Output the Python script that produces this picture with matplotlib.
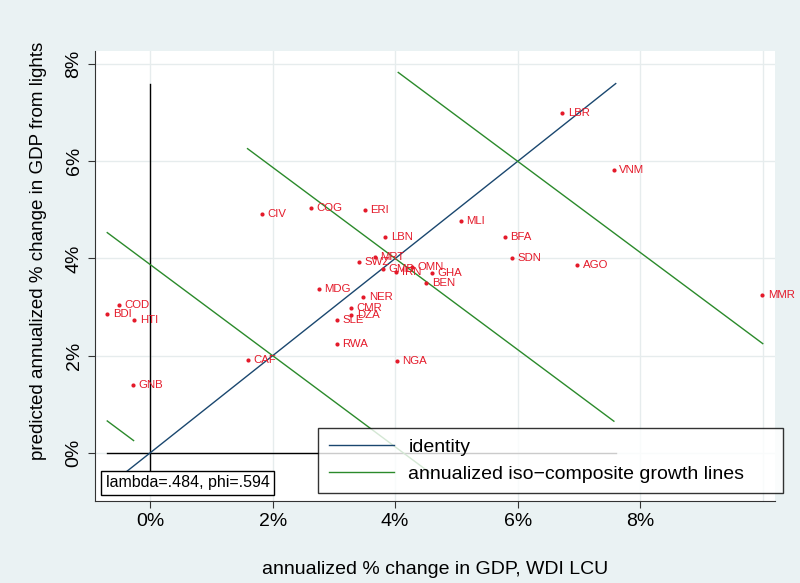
import numpy as np
import matplotlib
matplotlib.use('Agg')
import matplotlib.pyplot as plt
from matplotlib.lines import Line2D

plt.rcParams['font.family'] = ['Liberation Sans Narrow', 'Liberation Sans', 'DejaVu Sans']

# data (annualized % growth)
countries = ['LBR', 'VNM', 'CIV', 'COG', 'ERI', 'MLI', 'LBN', 'BFA', 'MRT', 'SWZ',
             'GMB', 'IRN', 'OMN', 'GHA', 'SDN', 'AGO', 'MDG', 'BEN', 'NER', 'CMR',
             'DZA', 'SLE', 'RWA', 'CAF', 'NGA', 'COD', 'BDI', 'HTI', 'GNB', 'MMR']
gdp_wdi = [6.73, 7.57, 1.82, 2.63, 3.50, 5.07, 3.84, 5.79, 3.67, 3.41,
           3.80, 4.02, 4.27, 4.60, 5.91, 6.97, 2.75, 4.51, 3.48, 3.28,
           3.28, 3.05, 3.05, 1.59, 4.03, -0.51, -0.70, -0.26, -0.28, 9.99]
gdp_lights = [6.99, 5.82, 4.92, 5.03, 4.99, 4.77, 4.45, 4.45, 4.04, 3.93,
              3.79, 3.72, 3.83, 3.71, 4.00, 3.87, 3.37, 3.50, 3.20, 2.98,
              2.83, 2.74, 2.24, 1.92, 1.89, 3.05, 2.86, 2.74, 1.40, 3.24]

lam = 0.484
phi = 0.594
slope = -lam / (1 - lam)

# iso-composite lines: point on identity and x range drawn
iso_points = [0, 2, 4, 6]
iso_x_start = [-0.70, -0.70, 1.59, 4.05]
iso_x_end = [-0.27, 4.6, 7.57, 10.0]

identity_range = [-0.7, 7.6]

bg = '#eaf2f3'
grid_c = '#e6eced'
red = '#e41a2a'
navy = '#1a476f'
green = '#2b8a2b'

fig = plt.figure(figsize=(8, 5.83), dpi=100, facecolor=bg)
ax = fig.add_axes([0.11875, 0.1407, 0.85, 0.7718])
ax.set_facecolor('white')

for g in [0, 2, 4, 6, 8]:
    ax.axhline(g, color=grid_c, lw=1, zorder=0)
for g in [0, 2, 4, 6, 8, 10]:
    ax.axvline(g, color=grid_c, lw=1, zorder=0)

# reference axes through origin
ax.plot(identity_range, [0, 0], color='black', lw=1, zorder=1)
ax.plot([0, 0], identity_range, color='black', lw=1, zorder=1)

ax.plot(identity_range, identity_range, color=navy, lw=1, zorder=2)
for c, x0, x1 in zip(iso_points, iso_x_start, iso_x_end):
    xs = np.array([x0, x1])
    ax.plot(xs, c + slope * (xs - c), color=green, lw=1, zorder=2)

ax.scatter(gdp_wdi, gdp_lights, s=9, color=red, zorder=3, linewidths=0)
for name, x, y in zip(countries, gdp_wdi, gdp_lights):
    ax.annotate(name, (x, y), xytext=(4, 0), textcoords='offset points',
                va='center', ha='left', color=red, fontsize=8.2,
                family=['Liberation Sans', 'DejaVu Sans'], annotation_clip=False, zorder=4)

ax.set_xlim(-0.9, 10.2)
ax.set_ylim(-0.99, 8.27)
ax.set_xticks([0, 2, 4, 6, 8])
ax.set_xticklabels(['0%', '2%', '4%', '6%', '8%'], fontsize=14)
ax.set_yticks([0, 2, 4, 6, 8])
ax.set_yticklabels(['0%', '2%', '4%', '6%', '8%'], fontsize=14, rotation=90, va='center')
ax.tick_params(direction='out', length=5, color='#333333', pad=4)
for s in ['top', 'right']:
    ax.spines[s].set_visible(False)
for s in ['left', 'bottom']:
    ax.spines[s].set_color('#333333')

ax.set_xlabel('annualized % change in GDP, WDI LCU', fontsize=14, labelpad=22)
ax.set_ylabel('predicted annualized % change in GDP from lights', fontsize=13.5)
ax.yaxis.set_label_coords(-0.07, 0.556)

handles = [Line2D([], [], color=navy, lw=1), Line2D([], [], color=green, lw=1)]
leg = fig.legend(handles, ['identity', 'annualized iso\u2212composite growth lines'],
                 bbox_to_anchor=(0.3975, 0.156, 0.581, 0.11), loc='upper left',
                 mode='expand', borderaxespad=0, fontsize=14, frameon=True, fancybox=False,
                 handlelength=3.35, borderpad=0.55, labelspacing=0.45, handletextpad=0.75)
leg.get_frame().set_edgecolor('black')
leg.get_frame().set_linewidth(1)

fig.text(0.132, 1 - 483 / 583, 'lambda=.484, phi=.594',
         fontsize=11.5, va='center', ha='left',
         bbox=dict(boxstyle='square,pad=0.3', fc='white', ec='black', lw=1))

fig.savefig('out.png', dpi=100, facecolor=bg)
